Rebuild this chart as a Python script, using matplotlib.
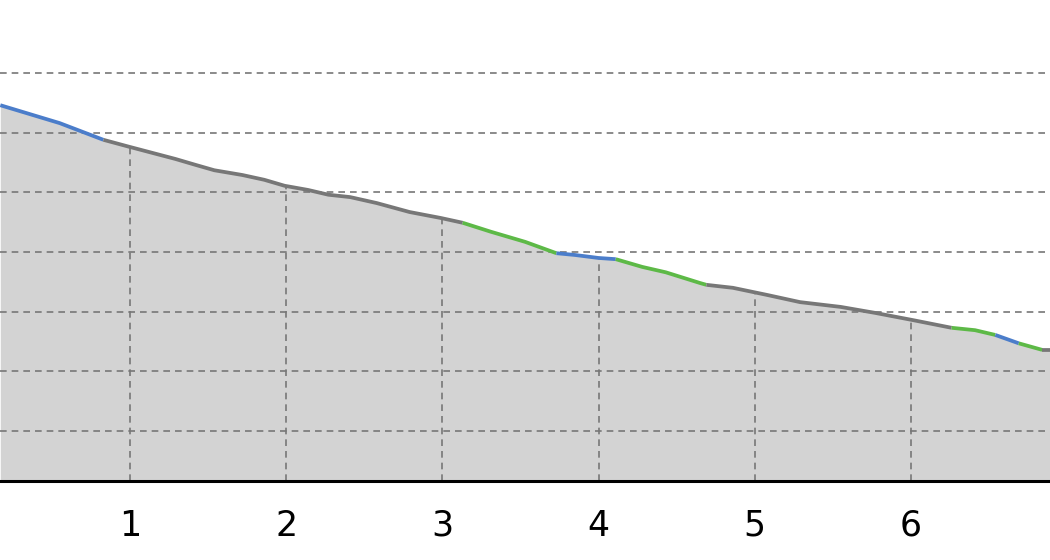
import numpy as np
import matplotlib
matplotlib.use("Agg")
import matplotlib.pyplot as plt

# curve points
x_vals = [0.17, 0.36, 0.55, 0.83, 1.00, 1.29, 1.42, 1.54, 1.72, 1.86, 1.99,
          2.14, 2.27, 2.41, 2.58, 2.79, 2.99, 3.13, 3.31, 3.53, 3.73, 3.85,
          4.00, 4.11, 4.28, 4.43, 4.65, 4.69, 4.86, 5.08, 5.29, 5.55, 5.77,
          6.01, 6.26, 6.41, 6.54, 6.69, 6.84, 6.89]
y_vals = [6.46, 6.31, 6.16, 5.88, 5.76, 5.56, 5.46, 5.37, 5.29, 5.21, 5.11,
          5.04, 4.96, 4.92, 4.82, 4.67, 4.57, 4.49, 4.34, 4.17, 3.98, 3.95,
          3.90, 3.88, 3.75, 3.66, 3.48, 3.45, 3.40, 3.28, 3.16, 3.08, 2.98,
          2.86, 2.73, 2.69, 2.61, 2.47, 2.36, 2.36]

# colour runs along the line
seg_breaks = [0.17, 0.83, 3.13, 3.73, 4.11, 4.69, 6.26, 6.54, 6.69, 6.84, 6.89]
seg_kinds = ["blue", "gray", "green", "blue", "green", "gray", "green", "blue", "green", "gray"]

x_ticks = [1, 2, 3, 4, 5, 6]
y_grid = [1, 2, 3, 4, 5, 6, 7]

colors = {"blue": "#4b7dca", "gray": "#777777", "green": "#5db947"}

fig = plt.figure(figsize=(10.5, 5.6), dpi=100)
ax = fig.add_axes([0, 0.141, 1, 0.859])

xs = np.array(x_vals)
ys = np.array(y_vals)
ymin, ymax = 0.162, 8.223

ax.fill_between(xs, ymin, ys, color="#d3d3d3", lw=0, zorder=1)

# horizontal grid over everything, vertical grid only under the curve
for g in y_grid:
    ax.axhline(g, color="#777777", lw=1.2, ls=(0, (4, 3)), zorder=2)
for t in x_ticks:
    ax.plot([t, t], [ymin, np.interp(t, xs, ys)], color="#777777", lw=1.2,
            ls=(0, (4, 3)), zorder=2)

for i, kind in enumerate(seg_kinds):
    lo, hi = seg_breaks[i], seg_breaks[i + 1]
    m = (xs >= lo - 1e-9) & (xs <= hi + 1e-9)
    ax.plot(xs[m], ys[m], color=colors[kind], lw=2.7, solid_capstyle="butt",
            solid_joinstyle="round", zorder=3)

ax.set_xlim(0.168, 6.890)
ax.set_ylim(ymin, ymax)
ax.set_xticks(x_ticks)
ax.set_xticklabels([str(t) for t in x_ticks], fontsize=25)
ax.set_yticks([])
ax.tick_params(axis="x", length=0, pad=20)

for s in ["top", "left", "right"]:
    ax.spines[s].set_visible(False)
ax.spines["bottom"].set_linewidth(2.2)
ax.spines["bottom"].set_color("black")
ax.spines["bottom"].set_zorder(4)

fig.savefig("out.png", dpi=100)
